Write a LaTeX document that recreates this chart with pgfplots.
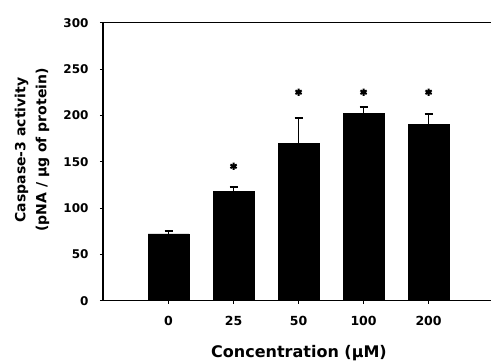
\documentclass[border=0pt]{standalone}
\usepackage{pgfplots}
\pgfplotsset{compat=1.18}
\usepackage{fontspec}
\setmainfont{DejaVu Sans}
\begin{document}
\begin{tikzpicture}
\path[use as bounding box] (-103pt,-60.3pt) rectangle (388pt,300.7pt);
\begin{axis}[
  at={(0,0)}, anchor=south west,
  scale only axis, width=388pt, height=278pt,
  xmin=-1.008, xmax=4.96, ymin=0, ymax=300,
  axis x line*=box, axis y line*=left,
  axis line style={-, line width=1.3pt},
  tick pos=left, tick align=outside,
  major tick length=3pt,
  xtick={0,1,2,3,4}, xticklabels={0,25,50,100,200},
  ytick={0,50,100,150,200,250,300},
  /pgf/number format/assume math mode=true,
  tick style={line width=1pt, black},
  xticklabel style={font=\fontsize{12.5}{14}\selectfont\bfseries, anchor=base, yshift=-21.5pt},
  yticklabel style={font=\fontsize{12}{13}\selectfont\bfseries, anchor=east, xshift=-8pt},
  xlabel={Concentration (µM)},
  xlabel style={at={(axis description cs:0.5,0)}, anchor=base, yshift=-57pt, xshift=2pt, font=\fontsize{16}{19}\selectfont\bfseries},
  ylabel={Caspase-3 activity\\(pNA / µg of protein)},
  ylabel style={at={(axis description cs:-0.1289,0.542)}, anchor=south, align=center, font=\fontsize{14}{21}\selectfont\bfseries},
  clip=false,
]
\addplot[ybar, bar width=41pt, bar shift=0pt, fill=black, draw=black,
  error bars/.cd, y dir=plus, y explicit,
  error bar style={line width=1.8pt, black},
  error mark options={rotate=90, mark size=4pt, line width=1.8pt, black}]
  coordinates {
  (0,72) +- (0,3)
  (1,118) +- (0,5)
  (2,170) +- (0,27)
  (3,202.5) +- (0,6.5)
  (4,190.6) +- (0,10.5)
  };
\addplot[only marks, mark=asterisk, mark size=3.6pt, line width=2pt, black]
  coordinates {(1,145) (2,225) (3,225) (4,225)};
\end{axis}
\end{tikzpicture}
\end{document}
